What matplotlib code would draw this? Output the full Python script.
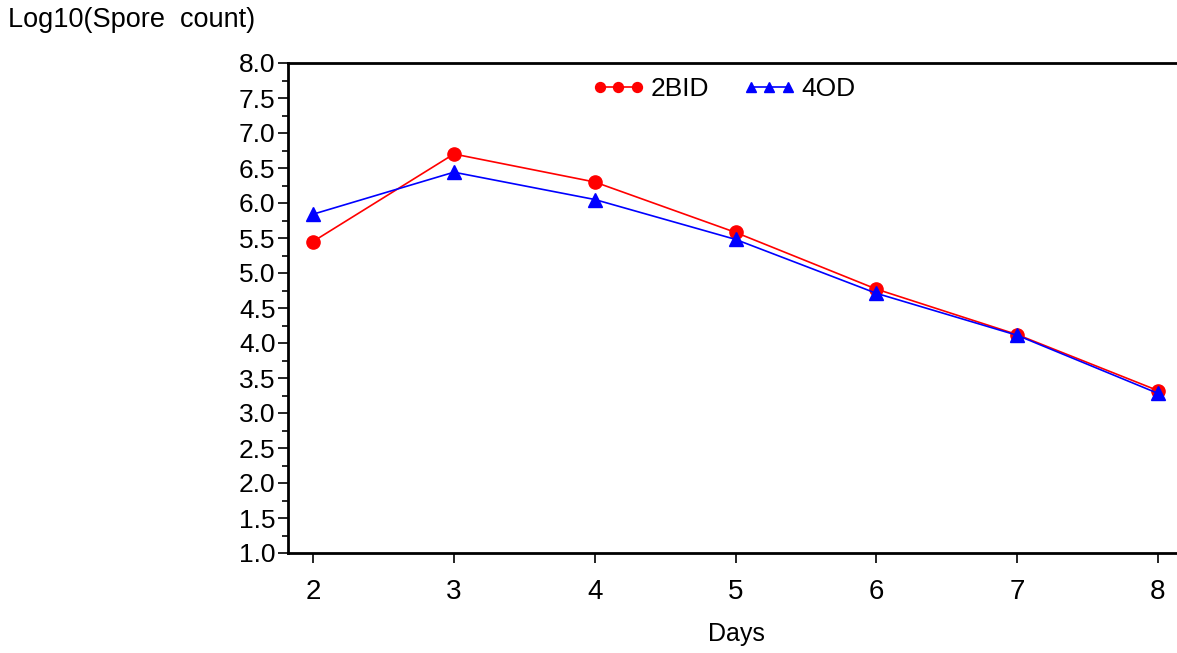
import matplotlib
matplotlib.use("Agg")
import matplotlib.pyplot as plt
from matplotlib.ticker import MultipleLocator

days = [2, 3, 4, 5, 6, 7, 8]
bid2 = [5.45, 6.70, 6.30, 5.58, 4.77, 4.12, 3.32]
od4 = [5.84, 6.44, 6.05, 5.48, 4.71, 4.11, 3.28]
series_labels = ["2BID", "4OD"]
y_ticks = [1.0, 1.5, 2.0, 2.5, 3.0, 3.5, 4.0, 4.5, 5.0, 5.5, 6.0, 6.5, 7.0, 7.5, 8.0]

plt.rcParams['font.family'] = ['Liberation Sans', 'DejaVu Sans']

fig = plt.figure(figsize=(11.77, 6.53), dpi=100)
ax = fig.add_axes([288/1177, 1-553/653, (1177-288)/1177, (553-63)/653])

ax.plot(days, bid2, color='#ff0000', marker='o', markersize=9.5, linewidth=1.2,
        label=series_labels[0], clip_on=False, zorder=3)
ax.plot(days, od4, color='#0000ff', marker='^', markersize=10, linewidth=1.2,
        label=series_labels[1], clip_on=False, zorder=4)

ax.set_xlim(1.822, 8.135)
ax.set_ylim(1.0, 8.0)
ax.set_xticks(days)
ax.set_yticks(y_ticks)
ax.set_yticklabels([f"{v:.1f}" for v in y_ticks])
ax.yaxis.set_minor_locator(MultipleLocator(0.25))

for s in ax.spines.values():
    s.set_linewidth(2)
ax.spines['right'].set_visible(False)
ax.tick_params(axis='x', which='major', direction='out', length=7, width=1.2, labelsize=20, pad=12)
ax.tick_params(axis='y', which='major', direction='out', length=7, width=1.2, labelsize=19, pad=2)
ax.tick_params(axis='y', which='minor', direction='out', length=4, width=1.2)

fig.text(8/1177, 1-20/653, "Log10(Spore  count)", fontsize=19.5, ha='left', va='center')
fig.text(736/1177, 1-634/653, "Days", fontsize=18, ha='center', va='center')

leg = ax.legend(loc='upper center', bbox_to_anchor=(0.49, 1.02), ncol=2, frameon=False,
                numpoints=3, fontsize=19, handlelength=2.0, handletextpad=0.2,
                columnspacing=1.3, markerscale=0.75)

fig.savefig("out.png", dpi=100)
